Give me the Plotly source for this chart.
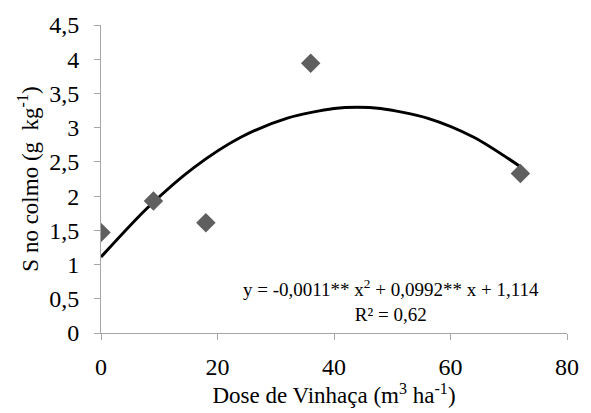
import plotly.graph_objects as go

# Observed data
dose = [0, 9, 18, 36, 72]
s_colmo = [1.47, 1.93, 1.61, 3.94, 2.33]

# Trendline points
trend_x = [0, 8, 16, 24, 32, 40, 44, 48, 56, 64, 72]
trend_y = [1.11, 1.83, 2.42, 2.86, 3.14, 3.28, 3.30, 3.28, 3.14, 2.86, 2.43]

x_ticks = [0, 20, 40, 60, 80]
y_ticks = [0, 0.5, 1, 1.5, 2, 2.5, 3, 3.5, 4, 4.5]
y_labels = ["0", "0,5", "1", "1,5", "2", "2,5", "3", "3,5", "4", "4,5"]

FONT = "Liberation Serif"

fig = go.Figure()
fig.add_trace(go.Scatter(
    x=trend_x, y=trend_y, mode="lines",
    line=dict(color="black", width=3, shape="spline", smoothing=0.8),
    showlegend=False, hoverinfo="skip"))
fig.add_trace(go.Scatter(
    x=dose, y=s_colmo, mode="markers",
    marker=dict(symbol="diamond", size=15, color="#5f5f5f"),
    showlegend=False))

fig.add_annotation(
    x=(395 - 101) / (574 - 101), y=(333 - 300) / (333 - 24),
    xref="x domain", yref="y domain", showarrow=False,
    xanchor="center", yanchor="middle",
    text="y = -0,0011** x<sup>2</sup> + 0,0992** x + 1,114<br>R² = 0,62",
    font=dict(family=FONT, size=19, color="black"), align="center")

fig.update_layout(
    width=591, height=413,
    margin=dict(l=101, r=17, t=24, b=80),
    plot_bgcolor="white", paper_bgcolor="white",
    font=dict(family=FONT, color="black"),
    xaxis=dict(
        range=[0, 80], tickvals=x_ticks, ticktext=[str(v) for v in x_ticks],
        showgrid=False, zeroline=False, showline=True, linecolor="#a6a6a6",
        linewidth=1, ticks="outside", ticklen=6, tickcolor="#a6a6a6",
        tickfont=dict(family=FONT, size=24), ticklabelstandoff=6,
        title=dict(text="Dose de Vinhaça (m<sup>3</sup> ha<sup>-1</sup>)",
                   font=dict(family=FONT, size=23), standoff=4)),
    yaxis=dict(
        range=[0, 4.5], tickvals=y_ticks, ticktext=y_labels,
        showgrid=False, zeroline=False, showline=True, linecolor="#a6a6a6",
        linewidth=1, ticks="outside", ticklen=6, tickcolor="#a6a6a6",
        tickfont=dict(family=FONT, size=24), ticklabelstandoff=10,
        title=dict(text="S no colmo (g  kg<sup>-1</sup>)",
                   font=dict(family=FONT, size=23), standoff=4)),
)

fig.write_html("out.html")
